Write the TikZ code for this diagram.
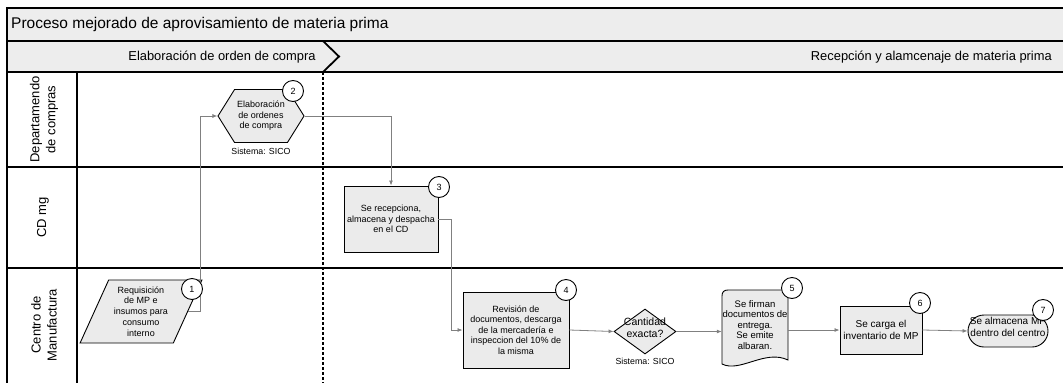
\documentclass[tikz,border=0pt]{standalone}
\usepackage{fontspec}
\setmainfont{Liberation Sans}
\usetikzlibrary{shapes.geometric,shapes.symbols,shapes.misc,arrows.meta}

\definecolor{band}{gray}{0.93}
\definecolor{boxfill}{gray}{0.92}
\definecolor{linkgray}{gray}{0.5}

% centred multi-line text that does not enlarge its shape
\newcommand{\cstack}[1]{\makebox[0pt]{\smash{\begin{tabular}{@{}c@{}}#1\end{tabular}}}}

\begin{document}
\begin{tikzpicture}[x=1pt,y=-1pt,
  frame/.style={line width=1.2pt},
  box/.style={draw, line width=0.9pt, fill=boxfill, align=center,
    font=\fontsize{9}{10.5}\selectfont, inner sep=1pt},
  badge/.style={circle, draw, fill=white, line width=0.9pt, minimum size=21pt,
    inner sep=0pt, font=\fontsize{9}{10}\selectfont},
  link/.style={color=linkgray, line width=0.8pt, -{Latex[length=5pt,width=4pt]}},
  note/.style={font=\fontsize{8.8}{10}\selectfont, inner sep=0pt},
  lanelabel/.style={rotate=90, align=center, font=\fontsize{13}{16}\selectfont},
]
\useasboundingbox (0,0) rectangle (1063,383);

% header bands
\fill[band] (7,8) rectangle (1063,72);

% pool frame and lane dividers
\draw[frame] (1063,8) -- (7,8) -- (7,383);
\draw[frame] (7,41) -- (1063,41);
\draw[frame] (7,72) -- (1063,72);
\draw[frame] (7,167) -- (1063,167);
\draw[frame] (7,268) -- (1063,268);
\draw[frame] (77,72) -- (77,383);

% title and phases
\node[anchor=west, inner sep=0pt, font=\fontsize{15.5}{18}\selectfont] (title) at (11,24)
  {Proceso mejorado de aprovisamiento de materia prima};
\node[inner sep=0pt, font=\fontsize{12.9}{15}\selectfont] (ph1) at (222,57)
  {Elaboración de orden de compra};
\node[anchor=east, inner sep=0pt, font=\fontsize{12.9}{15}\selectfont] (ph2) at (1052,57)
  {Recepción y alamcenaje de materia prima};
\draw[line width=1.8pt] (323,41) -- (339,56.5) -- (323,72);
\draw[line width=2.2pt, dash pattern=on 3pt off 2pt] (323,72) -- (323,383);

% lane labels
\node[lanelabel] (l1) at (44,119.5) {Departamendo\\de compras};
\node[lanelabel] (l2) at (43,217.5) {CD mg};
\node[lanelabel] (l3) at (44,325) {Centro de\\Manufactura};

% process steps
\node[box, trapezium, trapezium left angle=64.5, trapezium right angle=115.5,
  trapezium stretches=true, minimum width=122pt, minimum height=63pt,
  font=\fontsize{9}{10.8}\selectfont] (n1) at (141,311.5)
  {Requisición\\de MP e\\insumos para\\consumo\\interno};

\node[box, signal, signal to=west and east, signal pointer angle=116,
  minimum width=86pt, minimum height=53pt] (n2) at (261,116)
  {Elaboración\\de ordenes\\de compra};
\node[note] (s2) at (261,151) {Sistema: SICO};

\node[box, minimum width=94pt, minimum height=66pt] (n3) at (391,219)
  {Se recepciona,\\almacena y despacha\\en el CD};

\node[box, minimum width=106pt, minimum height=76pt] (n4) at (516,330)
  {Revisión de\\documentos, descarga\\de la mercadería e\\inspeccion del 10\% de\\la misma};

\node[box, diamond, inner sep=0pt, minimum width=62pt, minimum height=45pt,
  font=\fontsize{10.5}{12}\selectfont] (d) at (645,331.5)
  {\cstack{Cantidad\\exacta?}};
\node[note] (s4) at (645,361) {Sistema: SICO};

% document shape
\draw[line width=0.9pt, fill=boxfill] (788,360) -- (788,290) -- (728,290)
  .. controls (724,290) and (722,292) .. (722,296) -- (722,364)
  .. controls (740,373) and (765,349) .. (788,360) -- cycle;
\node[align=center, inner sep=0pt, minimum width=66pt, minimum height=70pt,
  font=\fontsize{9.5}{10.5}\selectfont] (n5) at (755,325)
  {Se firman\\documentos de\\entrega.\\Se emite\\albaran.};

\node[box, minimum width=82pt, minimum height=48pt,
  font=\fontsize{10}{12}\selectfont] (n6) at (881,330)
  {Se carga el\\inventario de MP};

\node[box, rounded rectangle, inner sep=0pt, minimum width=80pt, minimum height=32pt,
  font=\fontsize{10}{12}\selectfont] (n7) at (1008,331)
  {\cstack{Se almacena MP\\dentro del centro}};

% connectors
\draw[link] (n1.east) -- ++(12,0) |- (n2.west);
\draw[link] (n2.east) -| (n3.north);
\draw[link] (n3.east) -- ++(13,0) |- (n4.west);
\draw[link] (n4.east) -- (d.west);
\draw[link] (d.east) -- (d.east -| n5.west);
\draw[link] (n5.east |- n6.west) -- (n6.west);
\draw[link] (n6.east) -- (n7.west);

% step numbers
\node[badge] (b1) at (192,289) {1};
\node[badge] (b2) at (293,91) {2};
\node[badge] (b3) at (439,187) {3};
\node[badge] (b4) at (566,290) {4};
\node[badge] (b5) at (792,288) {5};
\node[badge] (b6) at (920,303) {6};
\node[badge] (b7) at (1043,310) {7};
\end{tikzpicture}
\end{document}
